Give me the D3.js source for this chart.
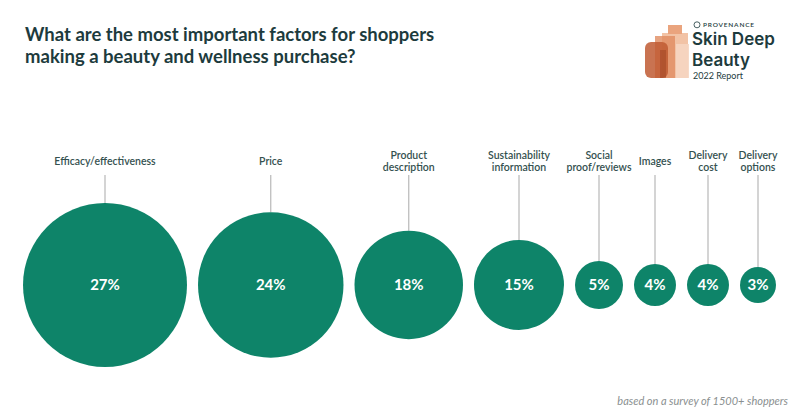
<!DOCTYPE html>
<html>
<head>
<meta charset="utf-8">
<script src="https://cdn.jsdelivr.net/npm/d3@7"></script>
<style>
  html, body { margin: 0; padding: 0; background: #fff; }
  svg { display: block; font-family: "Lato", "Open Sans", sans-serif; }
</style>
</head>
<body>
<svg id="chart" width="800" height="415"></svg>
<script>
// survey answers, in the order they are drawn
const factorLabels = [
    ["Efficacy/effectiveness"],
    ["Price"],
    ["Product", "description"],
    ["Sustainability", "information"],
    ["Social", "proof/reviews"],
    ["Images"],
    ["Delivery", "cost"],
    ["Delivery", "options"]
];
const shares = [27, 24, 18, 15, 5, 4, 4, 3];

const titleLines = [
    "What are the most important factors for shoppers",
    "making a beauty and wellness purchase?"
];
const footnote = "based on a survey of 1500+ shoppers";

const svg = d3.select("#chart");

const teal = "#0e8469";
const ink = "#1d3b3d";

// title
svg.append("g")
    .selectAll("text")
    .data(titleLines)
    .join("text")
    .attr("x", 25)
    .attr("y", (d, i) => 41 + i * 22)
    .attr("fill", ink)
    .attr("font-size", 18.5)
    .attr("font-weight", 700)
    .text(d => d);

// circle size: small answers are bumped up so the label fits
const r = d3.scaleLinear()
    .domain([0, 5, 15, 27])
    .range([9, 24, 45, 82]);

const gap = 11;
const startX = 23;
const cy = 285;
const lineTop = 175;

let cursor = startX;
const nodes = shares.map((v, i) => {
    const rad = r(v);
    const cx = cursor + rad;
    cursor = cx + rad + gap;
    return { value: v, lines: factorLabels[i], cx: cx, r: rad };
});

const g = svg.append("g");

// leader lines
g.selectAll("line.leader")
    .data(nodes)
    .join("line")
    .attr("class", "leader")
    .attr("x1", d => d.cx)
    .attr("x2", d => d.cx)
    .attr("y1", lineTop)
    .attr("y2", d => cy - d.r)
    .attr("stroke", "#b8b8b8")
    .attr("stroke-width", 1.2);

g.selectAll("circle")
    .data(nodes)
    .join("circle")
    .attr("cx", d => d.cx)
    .attr("cy", cy)
    .attr("r", d => d.r)
    .attr("fill", teal);

g.selectAll("text.pct")
    .data(nodes)
    .join("text")
    .attr("class", "pct")
    .attr("x", d => d.cx)
    .attr("y", cy + 5)
    .attr("text-anchor", "middle")
    .attr("fill", "#fff")
    .attr("font-size", 15)
    .attr("font-weight", 700)
    .text(d => d.value + "%");

const labels = g.selectAll("text.label")
    .data(nodes)
    .join("text")
    .attr("class", "label")
    .attr("text-anchor", "middle")
    .attr("fill", "#34514f")
    .attr("font-size", 10.5)
    .attr("font-weight", 600);

labels.selectAll("tspan")
    .data(d => d.lines.map((t, i) => ({ t: t, i: i, n: d.lines.length, cx: d.cx })))
    .join("tspan")
    .attr("x", d => d.cx)
    .attr("y", d => d.n === 1 ? 165 : 159 + d.i * 11.5)
    .text(d => d.t);

// footnote
svg.append("text")
    .attr("x", 788)
    .attr("y", 405)
    .attr("text-anchor", "end")
    .attr("fill", "#8a8f90")
    .attr("font-size", 11)
    .attr("font-style", "italic")
    .text(footnote);

// report logo, top right
const logo = svg.append("g");
logo.append("rect").attr("x", 662).attr("y", 33).attr("width", 26).attr("height", 45).attr("fill", "#f2c3a6");
logo.append("rect").attr("x", 668).attr("y", 25).attr("width", 14).attr("height", 9).attr("fill", "#eaa47e");
logo.append("rect").attr("x", 655).attr("y", 36).attr("width", 20).attr("height", 42).attr("fill", "#e08c62").attr("opacity", 0.8);
logo.append("rect").attr("x", 645).attr("y", 42).attr("width", 23).attr("height", 36).attr("rx", 6).attr("fill", "#bf5a33").attr("opacity", 0.85);
logo.append("rect").attr("x", 676).attr("y", 44).attr("width", 13).attr("height", 34).attr("fill", "#f6d6c2").attr("opacity", 0.9);
logo.append("rect").attr("x", 660).attr("y", 50).attr("width", 6).attr("height", 28).attr("fill", "#9e4222").attr("opacity", 0.5);

logo.append("circle").attr("cx", 697).attr("cy", 24.8).attr("r", 3)
    .attr("fill", "none").attr("stroke", ink).attr("stroke-width", 0.8);
logo.append("text").attr("x", 703).attr("y", 27)
    .attr("fill", ink).attr("font-size", 6.5).attr("letter-spacing", 0.8).attr("font-weight", 600)
    .text("PROVENANCE");

logo.append("text").attr("x", 692).attr("y", 45)
    .attr("fill", ink).attr("font-family", "Inter, Lato, sans-serif")
    .attr("font-size", 17).attr("font-weight", 600).text("Skin Deep");
logo.append("text").attr("x", 692).attr("y", 66)
    .attr("fill", ink).attr("font-family", "Inter, Lato, sans-serif")
    .attr("font-size", 17).attr("font-weight", 600).text("Beauty");
logo.append("text").attr("x", 693).attr("y", 79.2)
    .attr("fill", ink).attr("font-size", 9).text("2022 Report");
</script>
</body>
</html>
